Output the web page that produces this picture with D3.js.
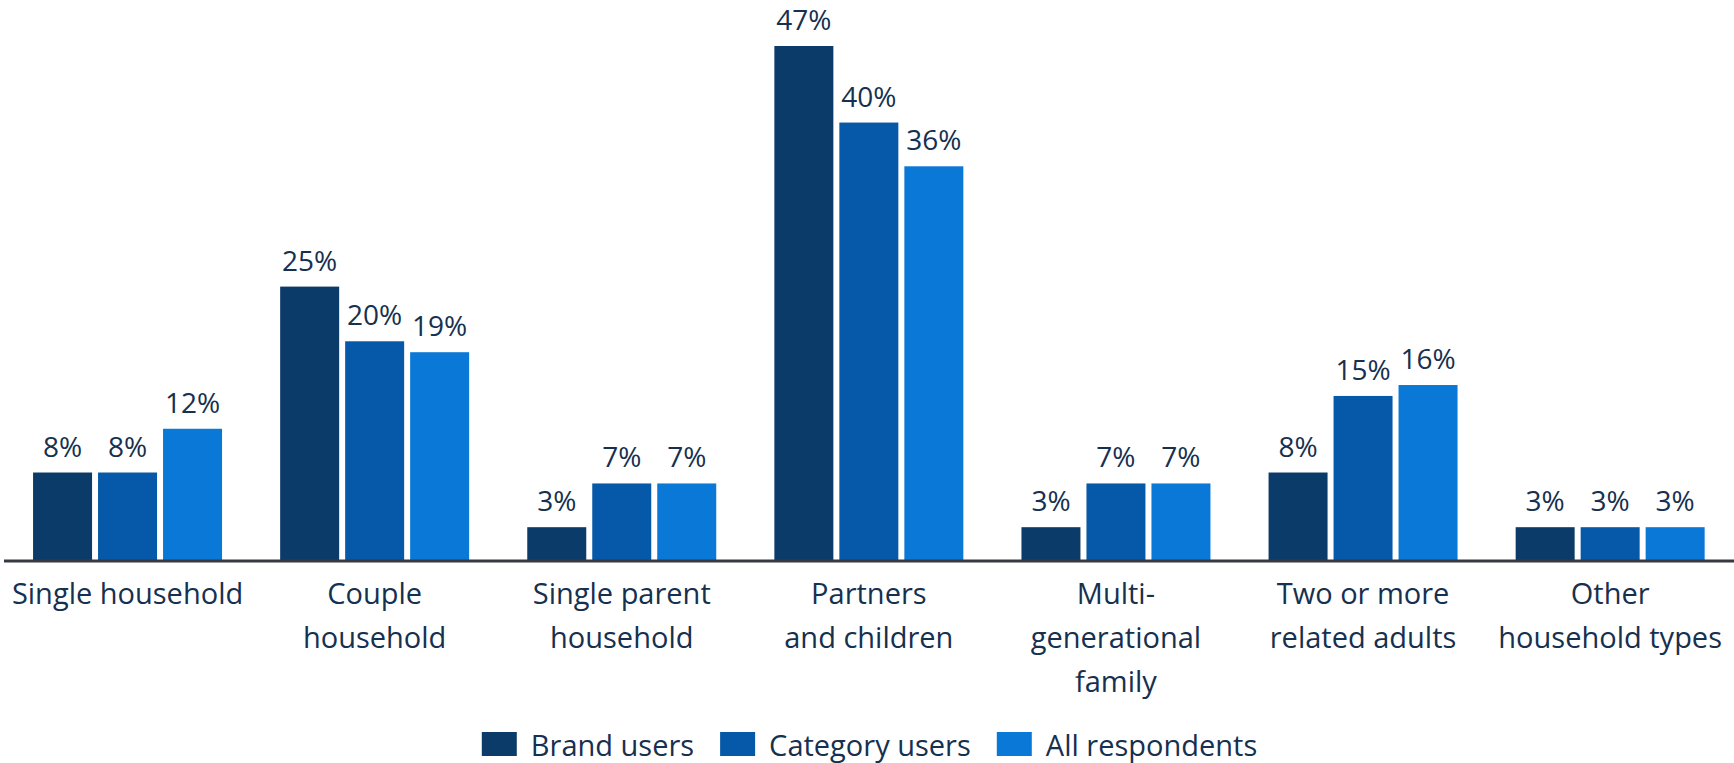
<!DOCTYPE html>
<html>
<head>
<meta charset="utf-8">
<script src="https://cdn.jsdelivr.net/npm/d3@7"></script>
<style>
  html, body { margin: 0; padding: 0; background: #ffffff; }
  svg { display: block; font-family: "Open Sans", sans-serif; }
</style>
</head>
<body>
<svg id="chart" width="1734" height="763"></svg>
<script>
// Household composition by respondent group (%)
const categories = [
  "Single household",
  "Couple household",
  "Single parent household",
  "Partners and children",
  "Multi-generational family",
  "Two or more related adults",
  "Other household types"
];
// Wrapped category label lines
const categoryLines = [
  ["Single household"],
  ["Couple", "household"],
  ["Single parent", "household"],
  ["Partners", "and children"],
  ["Multi-", "generational", "family"],
  ["Two or more", "related adults"],
  ["Other", "household types"]
];
const seriesNames = ["Brand users", "Category users", "All respondents"];
const brandUsers = [8, 25, 3, 47, 3, 8, 3];
const categoryUsers = [8, 20, 7, 40, 7, 15, 3];
const allRespondents = [12, 19, 7, 36, 7, 16, 3];
const seriesColors = ["#0b3b69", "#0659a8", "#0a78d7"];

const seriesValues = [brandUsers, categoryUsers, allRespondents];
const rows = categories.map((c, i) => ({
  category: c,
  values: seriesNames.map((s, j) => ({ series: s, value: seriesValues[j][i] }))
}));

const svg = d3.select("#chart");
const textColor = "#16304f";
const baseY = 560;

const x0 = d3.scaleBand()
  .domain(categories)
  .range([4, 1733.7])
  .paddingInner(0.211)
  .paddingOuter(0.1055);

const x1 = d3.scaleBand()
  .domain(seriesNames)
  .range([0, x0.bandwidth()])
  .paddingInner(0.0923)
  .paddingOuter(0.046);

const y = d3.scaleLinear()
  .domain([0, 47])
  .range([baseY, 46]);

const color = d3.scaleOrdinal().domain(seriesNames).range(seriesColors);

// Bars and value labels
const groups = svg.append("g").selectAll("g")
  .data(rows)
  .join("g")
  .attr("transform", d => `translate(${x0(d.category)},0)`);

groups.selectAll("rect")
  .data(d => d.values)
  .join("rect")
  .attr("x", d => x1(d.series))
  .attr("width", x1.bandwidth())
  .attr("y", d => y(d.value))
  .attr("height", d => y(0) - y(d.value))
  .attr("fill", d => color(d.series));

groups.selectAll("text.value")
  .data(d => d.values)
  .join("text")
  .attr("class", "value")
  .attr("x", d => x1(d.series) + x1.bandwidth() / 2)
  .attr("y", d => y(d.value) - 16)
  .attr("text-anchor", "middle")
  .attr("font-size", 28)
  .attr("fill", textColor)
  .text(d => d.value + "%");

// Baseline
svg.append("line")
  .attr("x1", 4)
  .attr("x2", 1734)
  .attr("y1", baseY + 1)
  .attr("y2", baseY + 1)
  .attr("stroke", "#363a40")
  .attr("stroke-width", 3);

// Category labels
const labels = svg.append("g").selectAll("text")
  .data(categories)
  .join("text")
  .attr("x", d => x0(d) + x0.bandwidth() / 2)
  .attr("y", 604)
  .attr("text-anchor", "middle")
  .attr("font-size", 29)
  .attr("fill", textColor);

labels.selectAll("tspan")
  .data((d, i) => categoryLines[i])
  .join("tspan")
  .attr("x", function () { return d3.select(this.parentNode).attr("x"); })
  .attr("dy", (d, i) => i === 0 ? 0 : 44)
  .text(d => d);

// Legend
const legend = svg.append("g");
const items = legend.selectAll("g")
  .data(seriesNames)
  .join("g");
items.append("rect")
  .attr("width", 35)
  .attr("height", 24)
  .attr("y", 732)
  .attr("fill", d => color(d));
items.append("text")
  .attr("x", 49)
  .attr("y", 756)
  .attr("font-size", 29)
  .attr("fill", textColor)
  .text(d => d);

let cursor = 0;
const offsets = [];
items.each(function () {
  offsets.push(cursor);
  const w = d3.select(this).select("text").node().getComputedTextLength();
  cursor += 49 + w + 26;
});
const totalW = cursor - 26;
const startX = 869.5 - totalW / 2;
items.attr("transform", (d, i) => `translate(${startX + offsets[i]},0)`);
</script>
</body>
</html>
